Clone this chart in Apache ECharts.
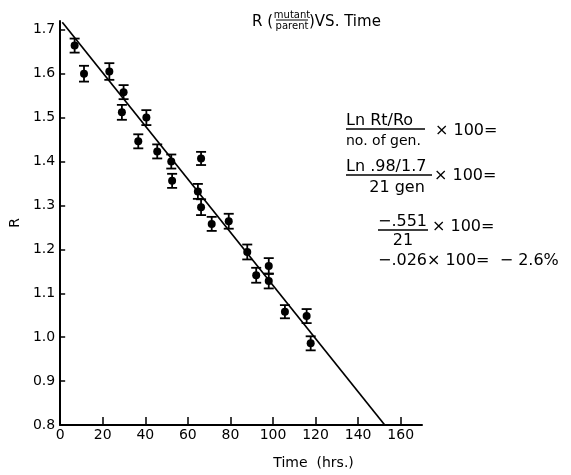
<!DOCTYPE html>
<html>
<head>
<meta charset="utf-8">
<script src="https://cdn.jsdelivr.net/npm/echarts@6/dist/echarts.min.js"></script>
<style>
html,body{margin:0;padding:0;background:#fff;}
#chart{width:571px;height:475px;}
</style>
</head>
<body>
<div id="chart"></div>
<script>
// Data
const timeHrs = [6.8, 11.2, 23.1, 29.8, 29.0, 40.5, 36.7, 45.6, 52.2, 66.2, 52.6, 64.7, 66.2, 71.2, 79.2, 87.9, 92.1, 98.0, 98.0, 105.6, 115.8, 117.7];
const ratioR  = [1.664, 1.600, 1.605, 1.558, 1.512, 1.500, 1.446, 1.423, 1.400, 1.407, 1.356, 1.332, 1.296, 1.258, 1.264, 1.194, 1.141, 1.162, 1.128, 1.058, 1.048, 0.986];
const errR    = [0.016, 0.018, 0.019, 0.016, 0.017, 0.017, 0.016, 0.016, 0.016, 0.015, 0.016, 0.017, 0.018, 0.016, 0.017, 0.017, 0.017, 0.018, 0.017, 0.015, 0.016, 0.016];
const fitTime = [1.0, 152.5];
const fitR    = [1.717, 0.8];
const xTicks  = [0, 20, 40, 60, 80, 100, 120, 140, 160];
const yTicks  = [0.8, 0.9, 1.0, 1.1, 1.2, 1.3, 1.4, 1.5, 1.6, 1.7];

const FONT = 'DejaVu Sans';
const chart = echarts.init(document.getElementById('chart'), null, {renderer: 'canvas'});

const pts = timeHrs.map((t, i) => [t, ratioR[i]]);
const bars = timeHrs.map((t, i) => [t, ratioR[i] - errR[i], ratioR[i] + errR[i]]);
const fit = fitTime.map((t, i) => [t, fitR[i]]);

function txt(x, y, s, size, align) {
  return {type: 'text', x: x, y: y, style: {text: s, font: size + 'px "' + FONT + '"', fill: '#000', align: align || 'left', verticalAlign: 'middle'}};
}
function hline(x1, x2, y, w) {
  return {type: 'line', shape: {x1: x1, y1: y, x2: x2, y2: y}, style: {stroke: '#000', lineWidth: w || 1.2}};
}

const option = {
  animation: false,
  backgroundColor: '#fff',
  grid: {left: 58, right: 149, top: 21, bottom: 47},
  xAxis: {
    type: 'value', min: 0, max: 170, interval: 20,
    name: 'Time  (hrs.)', nameLocation: 'middle', nameGap: 31,
    nameTextStyle: {fontFamily: FONT, fontSize: 14, color: '#000', padding: [0, 0, 0, 145]},
    axisLine: {lineStyle: {color: '#000', width: 2}},
    axisTick: {inside: true, length: 8, lineStyle: {color: '#000', width: 1.5}, customValues: xTicks},
    axisLabel: {customValues: xTicks, fontFamily: FONT, fontSize: 14, color: '#000', margin: 3},
    splitLine: {show: false}
  },
  yAxis: {
    type: 'value', min: 0.8, max: 1.72, interval: 0.1,
    name: 'R', nameLocation: 'middle', nameGap: 38, nameRotate: 90,
    nameTextStyle: {fontFamily: FONT, fontSize: 14, color: '#000'},
    axisLine: {lineStyle: {color: '#000', width: 2}},
    axisTick: {inside: true, length: 5, lineStyle: {color: '#000', width: 1.5}, customValues: yTicks},
    axisLabel: {customValues: yTicks, fontFamily: FONT, fontSize: 14, color: '#000', margin: 5,
      formatter: v => v.toFixed(1)},
    splitLine: {show: false}
  },
  series: [
    {
      type: 'line', data: fit, symbol: 'none',
      lineStyle: {color: '#000', width: 1.7}, z: 2
    },
    {
      type: 'custom', data: bars, z: 3,
      renderItem: function (params, api) {
        const lo = api.coord([api.value(0), api.value(1)]);
        const hi = api.coord([api.value(0), api.value(2)]);
        const c = 5;
        const st = {stroke: '#000', lineWidth: 1.8};
        return {type: 'group', children: [
          {type: 'line', shape: {x1: lo[0], y1: lo[1], x2: hi[0], y2: hi[1]}, style: st},
          {type: 'line', shape: {x1: lo[0] - c, y1: lo[1], x2: lo[0] + c, y2: lo[1]}, style: st},
          {type: 'line', shape: {x1: hi[0] - c, y1: hi[1], x2: hi[0] + c, y2: hi[1]}, style: st}
        ]};
      }
    },
    {
      type: 'scatter', data: pts, symbol: 'circle', symbolSize: 8,
      itemStyle: {color: '#000', opacity: 1}, z: 4
    }
  ],
  graphic: [
    // title
    txt(252, 22, 'R (', 15),
    txt(292, 15, 'mutant', 10, 'center'),
    hline(276, 308, 20, 1),
    txt(292, 26, 'parent', 10, 'center'),
    txt(309, 22, ')VS. Time', 15),
    // formula block
    txt(346, 121, 'Ln Rt/Ro', 16),
    hline(346, 425, 129, 1.4),
    txt(346, 141, 'no. of gen.', 14),
    txt(435, 131, '× 100=', 16),
    txt(346, 167, 'Ln .98/1.7', 16),
    hline(346, 432, 175, 1.4),
    txt(397, 188, '21 gen', 16, 'center'),
    txt(434, 176, '× 100=', 16),
    txt(378, 222, '−.551', 16),
    hline(378, 428, 230, 1.4),
    txt(403, 241, '21', 16, 'center'),
    txt(432, 227, '× 100=', 16),
    txt(378, 261, '−.026× 100=  − 2.6%', 16)
  ]
};
chart.setOption(option);
</script>
</body>
</html>
